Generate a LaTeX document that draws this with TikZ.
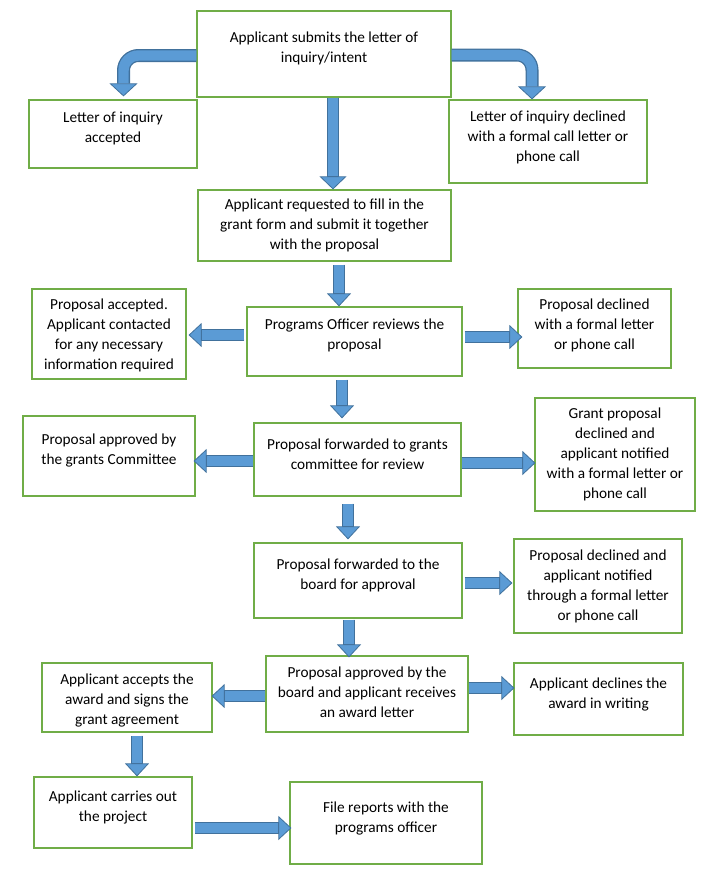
\documentclass[tikz,border=0pt]{standalone}
\usepackage{fontspec}
\setmainfont{Carlito}
\usetikzlibrary{calc}
\usetikzlibrary{arrows.meta}
\definecolor{boxgreen}{HTML}{70AD47}
\definecolor{arrowfill}{HTML}{5B9BD5}
\definecolor{arrowline}{HTML}{41719C}

\begin{document}
\begin{tikzpicture} [x=1pt, y=-1pt,
  box/.style={draw=boxgreen, line width=1.2pt, inner sep=0pt},
  every label/.style={align=center, inner sep=0pt, font=\fontsize{15.3}{20}\selectfont},
  fatarrow/.style={draw=arrowline, line width=12pt,
    -{Triangle[length=13pt, width=#1, line width=0.8pt, color=arrowline, fill=arrowfill]},
    postaction={draw=arrowfill, line width=10.4pt, -, shorten >=13pt}},
  fatarrow/.default=24pt]
\useasboundingbox (0,0) rectangle (703,873);

% boxes, text lifted a little as in the original
\node[box, minimum width=254pt, minimum height=86pt, label={[yshift=6pt]center:{Applicant submits the letter of\\inquiry/intent}}] (top) at (324,54) {};
\node[box, minimum width=168pt, minimum height=68pt, label={[yshift=6pt]center:{Letter of inquiry\\accepted}}] (accLOI) at (113,134) {};
\node[box, minimum width=198pt, minimum height=83pt, label={[yshift=4.5pt]center:{Letter of inquiry declined\\with a formal call letter or\\phone call}}] (decLOI) at (548,141.5) {};
\node[box, minimum width=253pt, minimum height=71pt, label={center:{Applicant requested to fill in the\\grant form and submit it together\\with the proposal}}] (request) at (324.5,225.5) {};
\node[box, minimum width=215pt, minimum height=69pt, label={[yshift=6pt]center:{Programs Officer reviews the\\proposal}}] (review) at (354.5,341.5) {};
\node[box, minimum width=154pt, minimum height=90pt, label={[yshift=-1.5pt]center:{Proposal accepted.\\Applicant contacted\\for any necessary\\information required}}] (accProp) at (109,334) {};
\node[box, minimum width=153pt, minimum height=79pt, label={[yshift=3.5pt]center:{Proposal declined\\with a formal letter\\or phone call}}] (decProp) at (594.5,328.5) {};
\node[box, minimum width=207pt, minimum height=73pt, label={[yshift=5.5pt]center:{Proposal forwarded to grants\\committee for review}}] (committee) at (357.5,459.5) {};
\node[box, minimum width=172pt, minimum height=80pt, label={[yshift=5.5pt]center:{Proposal approved by\\the grants Committee}}] (apprGrants) at (109,456) {};
\node[box, minimum width=160pt, minimum height=113pt, label={center:{Grant proposal\\declined and\\applicant notified\\with a formal letter or\\phone call}}] (decGrant) at (615,454.5) {};
\node[box, minimum width=208pt, minimum height=75pt, label={[yshift=5.5pt]center:{Proposal forwarded to the\\board for approval}}] (board) at (358,580.5) {};
\node[box, minimum width=168pt, minimum height=94pt, label={center:{Proposal declined and\\applicant notified\\through a formal letter\\or phone call}}] (decBoard) at (598,586) {};
\node[box, minimum width=202pt, minimum height=76pt, label={[yshift=2pt]center:{Proposal approved by the\\board and applicant receives\\an award letter}}] (award) at (367,694) {};
\node[box, minimum width=169pt, minimum height=72pt, label={[yshift=5pt]center:{Applicant declines the\\award in writing}}] (declAward) at (598.5,699) {};
\node[box, minimum width=170pt, minimum height=69pt, label={[yshift=-2.5pt]center:{Applicant accepts the\\award and signs the\\grant agreement}}] (accAward) at (127,697.5) {};
\node[box, minimum width=158pt, minimum height=71pt, label={[yshift=5.5pt]center:{Applicant carries out\\the project}}] (carry) at (113,812.5) {};
\node[box, minimum width=192pt, minimum height=82pt, label={[yshift=5pt]center:{File reports with the\\programs officer}}] (report) at (386,823) {};

% arrows
\draw[fatarrow=28pt, line width=13pt, rounded corners=15pt] ($(top.west)+(0,1.5)$) -| ($(accLOI.north)+(10.5,-3)$);
\draw[fatarrow=28pt, line width=13pt, rounded corners=15pt] ($(top.east)+(0,1)$) -| ($(decLOI.north)+(-16,0)$);
\draw[fatarrow=27pt] ($(top.south)+(9,0)$) -- ($(request.north)+(8.5,0)$);
\draw[fatarrow] ($(request.south)+(14.5,3)$) -- ($(review.north)+(-15.5,0)$);
\draw[fatarrow] ($(review.west)+(-2,-6.5)$) -- ($(accProp.east)+(2,1)$);
\draw[fatarrow] ($(review.east)+(2,-4.5)$) -- ($(decProp.west)+(5,8.5)$);
\draw[fatarrow] ($(review.south)+(-12.5,3)$) -- ($(committee.north)+(-15.5,-4)$);
\draw[fatarrow] ($(committee.west)+(0,1.5)$) -- ($(apprGrants.east)+(-2,5)$);
\draw[fatarrow] ($(committee.east)+(0,3.5)$) -- ($(decGrant.west)+(1,8.5)$);
\draw[fatarrow] ($(committee.south)+(-9.5,7)$) -- ($(board.north)+(-10,-3)$);
\draw[fatarrow] ($(board.east)+(2,2.5)$) -- ($(decBoard.west)+(-1,-3)$);
\draw[fatarrow] ($(board.south)+(-9,1)$) -- ($(award.north)+(-18,2)$);
\draw[fatarrow] ($(award.east)+(0,-6)$) -- ($(declAward.west)+(1,-11)$);
\draw[fatarrow] ($(award.west)+(0,2)$) -- ($(accAward.east)+(-1,-1.5)$);
\draw[fatarrow] ($(accAward.south)+(10,3)$) -- ($(carry.north)+(24,0)$);
\draw[fatarrow] ($(carry.east)+(2,15.5)$) -- ($(report.west)+(2,5)$);

\end{tikzpicture}
\end{document}
